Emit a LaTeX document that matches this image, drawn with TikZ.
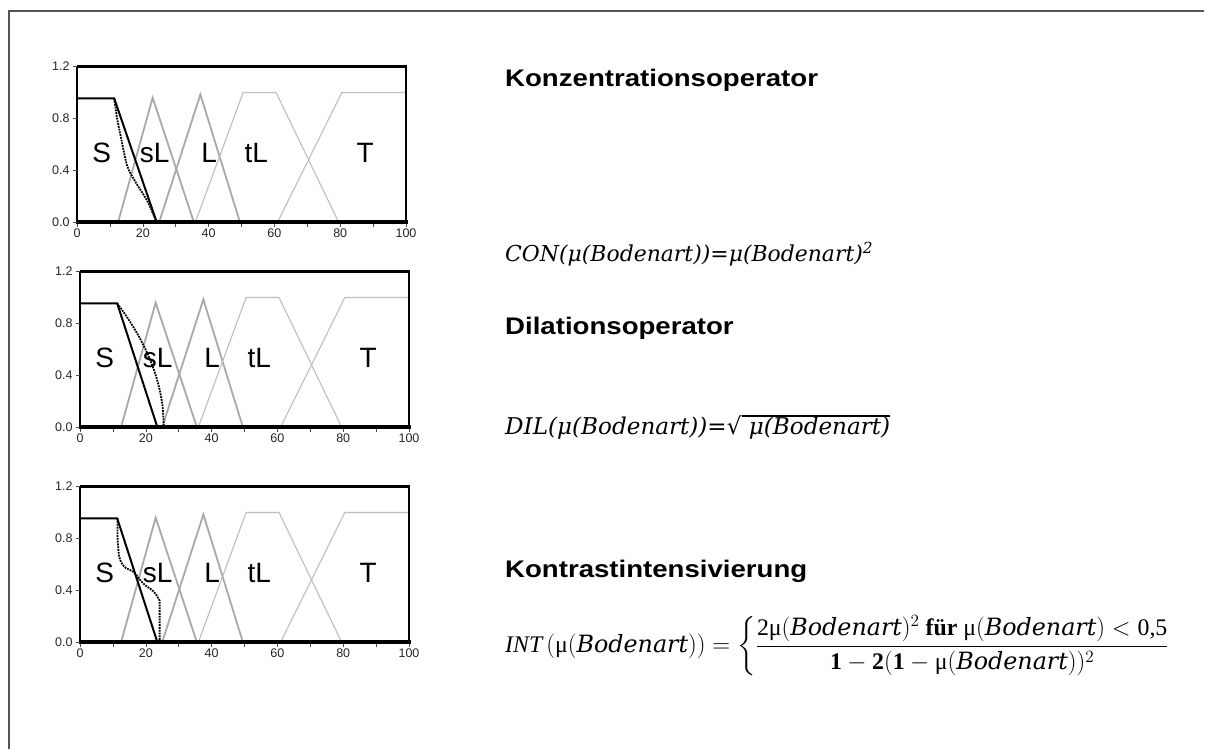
\documentclass[tikz,border=0pt]{standalone}
\usepackage{fontspec}
\usepackage{graphicx}
\usepackage{amsmath}
\setmainfont{Liberation Serif}
\newfontfamily\arial{Liberation Sans}
\newfontfamily\dejaserif{DejaVu Serif}
\definecolor{mfgray}{HTML}{A9A9A9}
\definecolor{mflgray}{HTML}{BEBEBE}
\definecolor{framegray}{HTML}{555555}
\newcommand{\bod}{{\dejaserif\itshape Bodenart}}
\newcommand{\fuzzychart}[5]{%
\begin{scope}[shift={(#2,#3)}, x=3.29pt, y=129.5pt]
 \draw[mfdark] (12.5,0) -- (23,0.96) -- (35.5,0);
 \draw[mfdark] (25,0) -- (37.5,0.985) -- (49.5,0);
 \draw[mflight] (36,0) -- (50.5,1.0) -- (60.5,1.0) -- (79.5,0);
 \draw[mflight] (61,0) -- (80.5,1.0) -- (100,1.0);
 \draw[line width=2.6pt] (0,1.2) -- (100,1.2) -- (100,0);
 \draw[line width=1.8pt] (0,0) -- (0,1.2);
 \draw[line width=4.2pt] (-0.3,0) -- (100.5,0);
 \foreach \v in {0,10,...,100} \draw[tickline] (\v,-0.016) -- (\v,-0.04);
 \foreach \v in {0,0.4,0.8,1.2} \draw[tickline] (0,\v) -- (-1.2,\v);
 \foreach \v in {0,20,...,100} \node[ticklab] (#1x\v) at (\v,-0.09) {\v};
 \foreach \v/\t [count=\i] in {0/0.0,0.4/0.4,0.8/0.8,1.2/1.2} \node[ticklab,anchor=east] (#1y\i) at (-2.2,\v) {\t};
 \draw[sline] (0,0.955) -- (11.3,0.955) -- (#5,0);
 \draw[dline] #4;
 \node[setlab] (#1S) at (7.5,0.53) {S};
 \node[setlab] (#1sL) at (23.6,0.53) {sL};
 \node[setlab] (#1L) at (40.2,0.53) {L};
 \node[setlab] (#1tL) at (54.5,0.53) {tL};
 \node[setlab] (#1T) at (87.6,0.53) {T};
\end{scope}}
\begin{document}
\begin{tikzpicture}[x=1pt,y=1pt,
  mfdark/.style={mfgray, line width=1.8pt},
  mflight/.style={mflgray, line width=1.1pt},
  tickline/.style={black!70, line width=0.6pt},
  ticklab/.style={font=\arial\fontsize{12.5}{12.5}\selectfont, text=black!85, inner sep=0pt},
  sline/.style={black, line width=2pt},
  dline/.style={black, densely dotted, line width=1.8pt},
  setlab/.style={font=\arial\fontsize{28}{28}\selectfont, inner sep=0pt},
  head/.style={font=\arial\bfseries\fontsize{24}{24}\selectfont, inner sep=0pt, anchor=base west},
  formula/.style={font=\fontsize{20}{24}\selectfont, inner sep=0pt, anchor=base west}]
\useasboundingbox (0,0) rectangle (1205,749);
\fill[white] (0,0) rectangle (1205,749);
\draw[framegray, line width=2pt] (9,-2) -- (9,738) -- (1204,738);
% charts
\fuzzychart{c1}{77}{527}{(11.3,0.955) -- plot[smooth] coordinates {(11.6,0.9) (12.2,0.8) (13.3,0.66) (15.3,0.43) (18,0.3) (21.4,0.16) (24.2,0.0)}}{24.2}
\fuzzychart{c2}{80}{322}{plot[domain=11.3:25.5, samples=40] (\x, {0.955*sqrt(abs(25.5-\x)/14.2)})}{23.5}
\fuzzychart{c3}{80}{107}{(11.4,0.955) -- (11.4,0.82) -- plot[smooth] coordinates {(11.4,0.82) (11.9,0.66) (13.5,0.58) (16.3,0.54) (19.3,0.45) (22.4,0.39) (24.2,0.32)} -- (24.2,0)}{23.5}
% headings
\node[head] (h1) at (505,662) {\scalebox{1.15}[1]{Konzentrationsoperator}};
\node[head] (h2) at (505,414) {\scalebox{1.15}[1]{Dilationsoperator}};
\node[head] (h3) at (505,171) {\scalebox{1.15}[1]{Kontrastintensivierung}};
% formulas
\node[formula] (f1) at (505,487) {\resizebox{368pt}{!}{\dejaserif\itshape CON(μ(Bodenart))=μ(Bodenart)\textsuperscript{2}}};
\node[formula] (f2) at (505,314) {\resizebox{385pt}{!}{\dejaserif\itshape DIL(μ(Bodenart))={\upshape √}\setbox0=\hbox{\ μ(Bodenart)}\rlap{\rule[0.8em]{\wd0}{0.045em}}\box0}};
\node[inner sep=0pt, anchor=west, font=\fontsize{20}{24}\selectfont] (f3) at (505,103) {\resizebox{665pt}{!}{$\text{\itshape INT}\,(\text{μ}(\text{\bod})) = \left\{\dfrac{\text{2μ}(\text{\bod})^2\ \text{\bfseries für}\ \text{μ}(\text{\bod}) < \text{0,5}}{\text{\bfseries 1}-\text{\bfseries 2}(\text{\bfseries 1}-\text{μ}(\text{\bod}))^2}\right.$}};
\end{tikzpicture}
\end{document}
